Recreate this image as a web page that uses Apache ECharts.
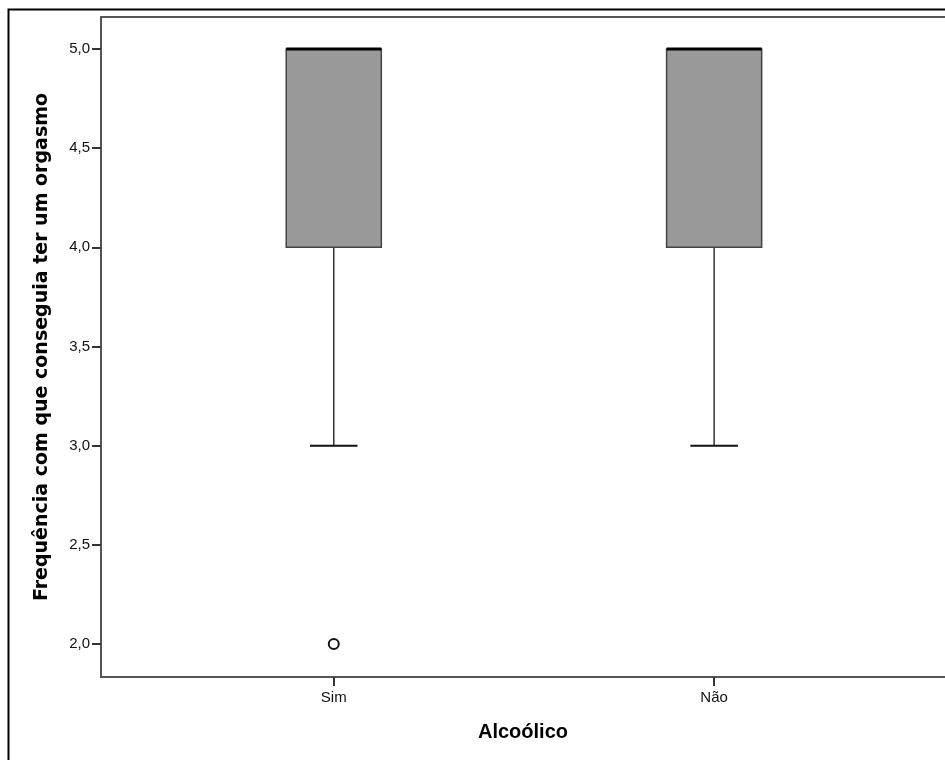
<!DOCTYPE html>
<html>
<head>
<meta charset="utf-8">
<script src="https://cdn.jsdelivr.net/npm/echarts@6/dist/echarts.min.js"></script>
<style>
html,body{margin:0;padding:0;background:#fff;}
#c{width:945px;height:760px;}
</style>
</head>
<body>
<div id="c"></div>
<script>
// ---- data ----
const categories = ['Sim', 'Não'];
const categoryPos = [1, 2];
const whiskerLow = [3.0, 3.0];
const quartile1 = [4.0, 4.0];
const medianVals = [5.0, 5.0];
const quartile3 = [5.0, 5.0];
const whiskerHigh = [5.0, 5.0];
const outlierCategory = ['Sim'];
const outlierValue = [2.0];
const yTicks = [2.0, 2.5, 3.0, 3.5, 4.0, 4.5, 5.0];
const yTitle = 'Frequência com que conseguia ter um orgasmo';
const xTitle = 'Alcoólico';

// ---- build ----
const boxData = categories.map((c, i) => [categoryPos[i], whiskerLow[i], quartile1[i], medianVals[i], quartile3[i], whiskerHigh[i]]);
const outlierData = outlierCategory.map((c, i) => [categoryPos[categories.indexOf(c)], outlierValue[i]]);

const chart = echarts.init(document.getElementById('c'), null, {renderer: 'canvas'});

function renderBox(params, api) {
  const x = api.value(0);
  const pLow = api.coord([x, api.value(1)]);
  const pQ1 = api.coord([x, api.value(2)]);
  const pMed = api.coord([x, api.value(3)]);
  const pQ3 = api.coord([x, api.value(4)]);
  const pHigh = api.coord([x, api.value(5)]);
  const boxW = api.size([0.25, 0])[0];
  const capW = boxW / 2;
  const cx = pQ1[0];
  const whiskerStyle = {stroke: '#333', lineWidth: 1.5};
  const capStyle = {stroke: '#111', lineWidth: 2};
  return {
    type: 'group',
    children: [
      {type: 'line', shape: {x1: cx, y1: pQ1[1], x2: cx, y2: pLow[1]}, style: whiskerStyle},
      {type: 'line', shape: {x1: cx, y1: pQ3[1], x2: cx, y2: pHigh[1]}, style: whiskerStyle},
      {type: 'line', shape: {x1: cx - capW / 2, y1: pLow[1], x2: cx + capW / 2, y2: pLow[1]}, style: capStyle},
      {type: 'line', shape: {x1: cx - capW / 2, y1: pHigh[1], x2: cx + capW / 2, y2: pHigh[1]}, style: capStyle},
      {type: 'rect', shape: {x: cx - boxW / 2, y: pQ3[1], width: boxW, height: pQ1[1] - pQ3[1]},
        style: {fill: '#999999', stroke: '#444', lineWidth: 1.5}},
      {type: 'line', shape: {x1: cx - boxW / 2, y1: pMed[1], x2: cx + boxW / 2, y2: pMed[1]},
        style: {stroke: '#000', lineWidth: 3}}
    ]
  };
}

const axisLineStyle = {color: '#555', width: 2};

const option = {
  animation: false,
  backgroundColor: '#fff',
  graphic: [{
    type: 'rect', left: 6, top: 7, z: 100,
    shape: {width: 1000, height: 1000},
    style: {fill: 'none', stroke: '#000', lineWidth: 2}
  }],
  grid: {
    left: 101, top: 17, right: 0, bottom: 83,
    show: false
  },
  xAxis: [{
    type: 'value',
    min: 0.388, max: 2.607,
    name: xTitle,
    nameLocation: 'middle',
    nameGap: 45,
    nameTextStyle: {fontFamily: 'Liberation Sans, Arial', fontWeight: 'bold', fontSize: 20, color: '#000'},
    splitLine: {show: false},
    axisLine: {show: true, lineStyle: axisLineStyle},
    axisTick: {show: true, customValues: categoryPos, length: 9, lineStyle: {color: '#333', width: 2}},
    axisLabel: {
      customValues: categoryPos,
      margin: 13,
      fontFamily: 'Liberation Sans, Arial', fontSize: 15, color: '#111',
      formatter: v => categories[categoryPos.indexOf(v)] || ''
    }
  }, {
    type: 'value',
    position: 'top',
    min: 0.388, max: 2.607,
    splitLine: {show: false},
    axisLine: {show: true, lineStyle: axisLineStyle},
    axisTick: {show: false},
    axisLabel: {show: false}
  }],
  yAxis: {
    type: 'value',
    min: 1.834, max: 5.161,
    name: yTitle,
    nameLocation: 'middle',
    nameGap: 49,
    nameTextStyle: {fontFamily: 'DejaVu Sans', fontWeight: 'bold', fontSize: 19, color: '#000'},
    splitLine: {show: false},
    axisLine: {show: true, lineStyle: axisLineStyle},
    axisTick: {show: true, customValues: yTicks, length: 9, lineStyle: {color: '#333', width: 2}},
    axisLabel: {
      customValues: yTicks,
      margin: 11,
      fontFamily: 'Liberation Sans, Arial', fontSize: 15, color: '#111',
      formatter: v => v.toFixed(1).replace('.', ',')
    }
  },
  series: [
    {
      type: 'custom',
      renderItem: renderBox,
      data: boxData,
      encode: {x: 0, y: [1, 2, 3, 4, 5]},
      z: 5
    },
    {
      type: 'scatter',
      data: outlierData,
      symbol: 'circle',
      symbolSize: 10,
      itemStyle: {color: '#fff', borderColor: '#111', borderWidth: 2, opacity: 1},
      z: 6
    }
  ]
};
chart.setOption(option);
</script>
</body>
</html>
